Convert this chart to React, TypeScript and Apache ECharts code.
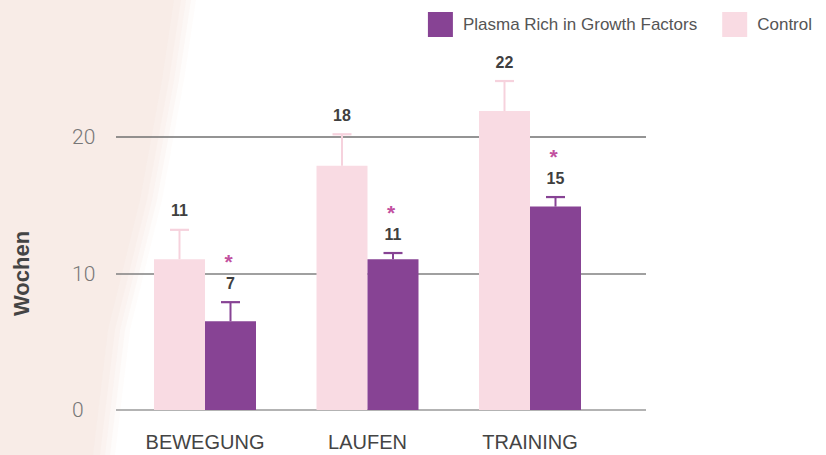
import React, { useEffect, useRef } from "react";
import * as echarts from "echarts";

const categories = ["BEWEGUNG", "LAUFEN", "TRAINING"];
const seriesNames = ["Plasma Rich in Growth Factors", "Control"];
const controlMeans = [11.05, 17.9, 21.9];
const prgfMeans = [6.5, 11.05, 14.9];
const controlErr = [2.15, 2.3, 2.2];
const prgfErr = [1.4, 0.45, 0.7];
const controlLabels = ["11", "18", "22"];
const prgfLabels = ["7", "11", "15"];
const significant = [true, true, true];
const yMin = 0;
const yMax = 20;
const yInterval = 10;

const PINK = "#f9dbe3";
const PINK_ERR = "#f6d2dd";
const PURPLE = "#874394";
const STAR = "#c2509f";
const FONT = "'Liberation Sans', Arial, sans-serif";

function errSeries(means: number[], errs: number[], labels: string[], offset: number, color: string, withStar: boolean) {
  return {
    type: "custom",
    xAxisIndex: 1,
    yAxisIndex: 1,
    z: 5,
    clip: false,
    silent: true,
    data: means.map((m, i) => [i, m, m + errs[i]]),
    renderItem: (params: any, api: any) => {
      const i = api.value(0);
      const base = api.coord([i, api.value(1)]);
      const top = api.coord([i, api.value(2)]);
      const x = base[0] + offset;
      const children: any[] = [
        { type: "line", shape: { x1: x, y1: base[1], x2: x, y2: top[1] }, style: { stroke: color, lineWidth: 2 } },
        { type: "line", shape: { x1: x - 9.5, y1: top[1], x2: x + 9.5, y2: top[1] }, style: { stroke: color, lineWidth: 2.2 } },
        {
          type: "text",
          x: x,
          y: top[1] - 19,
          style: { text: labels[params.dataIndex], align: "center", verticalAlign: "middle", font: `bold 16px ${FONT}`, fill: "#3f3f3f" },
        },
      ];
      if (withStar && significant[params.dataIndex]) {
        children.push({
          type: "text",
          x: x - 2,
          y: top[1] - 19 - 22,
          style: { text: "*", align: "center", verticalAlign: "middle", font: `bold 21px ${FONT}`, fill: STAR },
        });
      }
      return { type: "group", children };
    },
  };
}

const bgEdge = [[186, 0], [174, 80], [152, 200], [120, 330], [105, 455]];

function bgLayer(shift: number, color: string) {
  const pts = [[0, 0], ...bgEdge.map((p) => [p[0] + shift, p[1]]), [0, 455]];
  return { type: "polygon", z: -100, silent: true, shape: { points: pts }, style: { fill: color } };
}

export default function App() {
  const ref = useRef<HTMLDivElement>(null);
  useEffect(() => {
    if (!ref.current) return;
    const chart = echarts.init(ref.current, null, { renderer: "svg" });
    chart.setOption({
      animation: false,
      backgroundColor: "#ffffff",
      graphic: [
        bgLayer(10, "rgba(246,232,226,0.15)"),
        bgLayer(5, "rgba(246,232,226,0.2)"),
        bgLayer(0, "rgba(246,232,226,0.25)"),
        bgLayer(-5, "rgba(246,232,226,0.3)"),
        bgLayer(-12, "rgba(246,232,226,0.45)"),
      ],
      legend: {
        data: seriesNames,
        right: 9,
        top: 7,
        icon: "rect",
        itemWidth: 25,
        itemHeight: 25,
        itemGap: 25,
        textStyle: { fontSize: 17, color: "#555", fontFamily: FONT, padding: [0, 0, 0, 5] },
      },
      grid: [
        { left: 116, right: 180, top: 137, bottom: 45 },
        { left: 123.75, right: 214.75, top: 137, bottom: 45 },
      ],
      xAxis: [
        { type: "category", gridIndex: 0, data: categories, show: false },
        {
          type: "category",
          gridIndex: 1,
          data: categories,
          axisLine: { show: false },
          axisTick: { show: false },
          axisLabel: { fontSize: 20, color: "#444", fontFamily: FONT, margin: 22 },
        },
      ],
      yAxis: [
        {
          type: "value",
          gridIndex: 0,
          min: yMin,
          max: yMax,
          interval: yInterval,
          name: "Wochen",
          nameLocation: "middle",
          nameGap: 84,
          nameTextStyle: { fontSize: 22, fontWeight: "bold", color: "#444", fontFamily: FONT },
          axisLine: { show: false },
          axisTick: { show: false },
          axisLabel: { fontSize: 21, color: "#777", fontFamily: "Roboto, sans-serif", fontWeight: 300, margin: 44, align: "left" },
          splitLine: { lineStyle: { color: ["#9a9a9a", "#808080", "#707070"], width: 1.5 } },
        },
        { type: "value", gridIndex: 1, min: yMin, max: yMax, interval: yInterval, show: false, splitLine: { show: false } },
      ],
      series: [
        {
          name: seriesNames[1],
          type: "bar",
          xAxisIndex: 1,
          yAxisIndex: 1,
          data: controlMeans,
          barWidth: 51,
          barGap: "0%",
          clip: false,
          itemStyle: { color: PINK },
          z: 3,
        },
        {
          name: seriesNames[0],
          type: "bar",
          xAxisIndex: 1,
          yAxisIndex: 1,
          data: prgfMeans,
          barWidth: 51,
          barGap: "0%",
          clip: false,
          itemStyle: { color: PURPLE },
          z: 3,
        },
        errSeries(controlMeans, controlErr, controlLabels, -25.5, PINK_ERR, false),
        errSeries(prgfMeans, prgfErr, prgfLabels, 25.5, PURPLE, true),
      ],
    });
    return () => chart.dispose();
  }, []);
  return <div ref={ref} style={{ position: "fixed", left: 0, top: 0, width: 826, height: 455 }} />;
}
